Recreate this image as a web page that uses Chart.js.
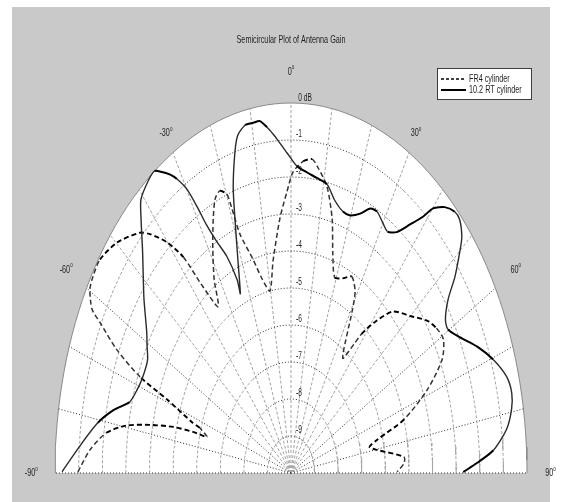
<!DOCTYPE html>
<html>
<head>
<meta charset="utf-8">
<title>Semicircular Plot of Antenna Gain</title>
<script src="https://cdn.jsdelivr.net/npm/chart.js@4.4.0/dist/chart.umd.min.js"></script>
<style>
  html, body { margin: 0; padding: 0; background: #fff; }
  canvas { display: block; }
</style>
</head>
<body>
<canvas id="gainChart" width="562" height="502"></canvas>
<script>
// Angles in degrees (0 = broadside), gain in dB
var fr4Angle = [-89.8, -85.8, -82.1, -79.6, -77.7, -76.0, -75.0, -74.7, -72.5, -71.9, -69.3, -67.9, -65.7, -63.3, -62.3, -59.8, -57.7, -54.5, -49.8, -44.6, -42.8, -40.1, -38.0, -36.8, -34.5, -31.9, -28.7, -25.7, -23.5, -21.6, -19.8, -19.3, -18.5, -15.6, -13.2, -10.3, -7.5, -3.9, -1.3, 0.6, 3.5, 6.0, 7.6, 11.1, 14.2, 16.6, 19.3, 22.6, 25.9, 29.0, 30.6, 35.2, 37.5, 38.5, 41.0, 44.7, 50.0, 54.6, 57.6, 60.8, 64.4, 68.7, 73.2, 76.2, 78.1, 80.3, 84.8, 86.8, 89.6];
var fr4Gain = [-0.97, -1.46, -2.1, -2.9, -3.9, -4.85, -5.7, -6.3, -5.95, -5.6, -4.4, -3.1, -1.9, -0.94, -0.48, -0.14, -0.07, -0.06, -0.35, -0.88, -1.2, -1.85, -2.6, -3.57, -4.55, -3.84, -3.1, -2.4, -1.93, -1.8, -2.0, -2.45, -3.2, -4.0, -4.6, -5.0, -4.2, -3.1, -2.4, -1.87, -1.56, -1.47, -1.63, -2.1, -2.9, -3.8, -4.4, -4.3, -4.1, -4.4, -4.9, -6.2, -5.6, -5.2, -4.6, -3.86, -3.4, -2.9, -2.7, -2.6, -2.9, -3.8, -5.0, -6.25, -6.6, -6.3, -5.2, -5.2, -5.5];

var rtAngle = [-89.8, -85.5, -80.6, -77.2, -74.3, -71.0, -67.8, -63.4, -60.6, -58.1, -53.0, -48.3, -46.3, -42.8, -40.7, -37.4, -35.3, -33.9, -32.4, -31.3, -29.9, -28.9, -28.1, -26.7, -24.9, -23.6, -23.9, -21.3, -19.1, -17.6, -15.3, -13.9, -11.7, -9.6, -7.9, -6.2, -4.8, -3.8, -1.1, 1.7, 4.8, 7.8, 11.1, 14.1, 17.3, 19.8, 22.7, 25.2, 27.3, 29.9, 32.1, 34.5, 36.9, 38.9, 40.1, 42.2, 44.5, 46.2, 48.6, 49.9, 52.6, 54.8, 57.6, 59.7, 62.9, 66.6, 70.3, 74.1, 77.0, 79.6, 82.7, 85.9, 88.0, 89.8];
var rtGain = [-0.3, -1.0, -1.7, -2.3, -2.9, -3.1, -3.2, -3.2, -3.0, -2.8, -2.2, -1.6, -1.3, -0.65, -0.25, -0.05, 0.0, -0.2, -0.45, -0.7, -1.15, -1.8, -2.4, -3.0, -3.55, -4.3, -4.7, -3.8, -2.75, -1.9, -1.0, -0.6, -0.4, -0.4, -0.4, -0.6, -0.8, -0.95, -1.35, -1.7, -1.85, -1.95, -2.05, -2.4, -2.6, -2.6, -2.4, -2.1, -2.05, -2.2, -2.3, -2.1, -1.6, -1.1, -0.65, -0.3, -0.1, -0.1, -0.35, -0.63, -1.25, -1.85, -2.25, -2.3, -1.95, -1.4, -0.9, -0.5, -0.4, -0.5, -0.8, -1.4, -2.1, -2.7];

var ringLevels = [-1, -2, -3, -4, -5, -6, -7, -8, -9];
var spokeAngles = [-90, -80, -70, -60, -50, -40, -30, -20, -10, 0, 10, 20, 30, 40, 50, 60, 70, 80, 90];
var angleTicks = [-90, -60, -30, 0, 30, 60, 90];
var minDb = -10;

function toXY(deg, db) {
  var r = (db - minDb) / -minDb;
  var a = deg * Math.PI / 180;
  return { x: r * Math.sin(a), y: r * Math.cos(a) };
}

function arc(level) {
  var pts = [];
  for (var d = -90; d <= 90; d += 2) pts.push(toXY(d, level));
  return pts;
}

// lines that run mostly across the page look black dotted, steep ones grey dashed
function flat(c) {
  return Math.abs(c.p1.x - c.p0.x) >= Math.abs(c.p1.y - c.p0.y);
}

var gridSegment = {
  borderColor: function (c) { return flat(c) ? '#2e2e2e' : '#a3a3a3'; },
  borderDash: function (c) { return flat(c) ? [1, 2] : [3, 2]; }
};

var datasets = [];

datasets.push({
  label: 'frame',
  data: arc(0),
  borderColor: '#8a8a8a',
  borderWidth: 1,
  backgroundColor: '#ffffff',
  fill: 'origin',
  order: 10
});

ringLevels.forEach(function (lv) {
  datasets.push({ label: 'ring', data: arc(lv), borderWidth: 1, segment: gridSegment, order: 8 });
});

spokeAngles.forEach(function (a) {
  datasets.push({ label: 'spoke', data: [toXY(0, minDb), toXY(a, 0)], borderWidth: 1, segment: gridSegment, order: 8 });
});

datasets.push({
  label: 'FR4 cylinder',
  data: fr4Angle.map(function (a, i) { return toXY(a, fr4Gain[i]); }),
  borderColor: '#000',
  borderWidth: 1.8,
  borderDash: [5, 3],
  tension: 0.25,
  segment: {
    borderColor: function (c) { return flat(c) ? '#000' : '#333'; },
    borderWidth: function (c) { return flat(c) ? 1.9 : 1.5; }
  },
  order: 2
});

datasets.push({
  label: '10.2 RT cylinder',
  data: rtAngle.map(function (a, i) { return toXY(a, rtGain[i]); }),
  borderColor: '#000',
  borderWidth: 1.9,
  tension: 0.25,
  segment: {
    borderColor: function (c) { return flat(c) ? '#000' : '#2a2a2a'; },
    borderWidth: function (c) { return flat(c) ? 2 : 1.4; }
  },
  order: 1
});

function squeezed(ctx, text, x, y, size, align) {
  ctx.save();
  ctx.translate(x, y);
  ctx.scale(0.66, 1);
  ctx.font = size + 'px "Liberation Sans", Arial, sans-serif';
  ctx.textAlign = align || 'center';
  ctx.textBaseline = 'middle';
  ctx.fillText(text, 0, 0);
  ctx.restore();
}

function degLabel(ctx, val, cx, cy) {
  ctx.save();
  ctx.font = '11px "Liberation Sans", Arial, sans-serif';
  var w1 = ctx.measureText(String(val)).width * 0.66;
  ctx.font = '7px "Liberation Sans", Arial, sans-serif';
  var w2 = ctx.measureText('o').width * 0.66;
  ctx.restore();
  var x0 = cx - (w1 + w2) / 2;
  squeezed(ctx, String(val), x0, cy, 11, 'left');
  squeezed(ctx, 'o', x0 + w1, cy - 4, 7, 'left');
}

var backdrop = {
  id: 'backdrop',
  beforeDraw: function (chart) {
    var ctx = chart.ctx;
    ctx.save();
    ctx.fillStyle = '#ffffff';
    ctx.fillRect(0, 0, chart.width, chart.height);
    ctx.fillStyle = '#c9c9c9';
    ctx.fillRect(12, 7, 538, 495);
    ctx.restore();
  }
};

var labels = {
  id: 'labels',
  afterDraw: function (chart) {
    var ctx = chart.ctx, xs = chart.scales.x, ys = chart.scales.y;
    var cx = xs.getPixelForValue(0);
    ctx.save();
    ctx.fillStyle = '#1e1e1e';

    squeezed(ctx, 'Semicircular Plot of Antenna Gain', cx, 40, 11);

    // dB ring labels
    squeezed(ctx, '0 dB', cx + 14, ys.getPixelForValue(1) - 5, 10);
    ringLevels.forEach(function (lv) {
      var p = toXY(0, lv);
      squeezed(ctx, String(lv), cx + 8, ys.getPixelForValue(p.y) - 6, 10);
    });

    // angle labels around the rim
    var rad = { '-90': 1.10, '-60': 1.10, '-30': 1.06, '0': 1.085, '30': 1.06, '60': 1.10, '90': 1.10 };
    angleTicks.forEach(function (a) {
      var r = rad[String(a)];
      var t = a * Math.PI / 180;
      degLabel(ctx, a, xs.getPixelForValue(r * Math.sin(t)), ys.getPixelForValue(r * Math.cos(t)));
    });

    // legend
    ctx.fillStyle = '#ffffff';
    ctx.fillRect(437, 68, 94, 31);
    ctx.strokeStyle = '#3c3c3c';
    ctx.lineWidth = 1;
    ctx.strokeRect(437.5, 68.5, 94, 31);
    ctx.strokeStyle = '#000';
    ctx.lineWidth = 1.6;
    ctx.setLineDash([3, 2]);
    ctx.beginPath(); ctx.moveTo(441, 79); ctx.lineTo(466, 79); ctx.stroke();
    ctx.setLineDash([]);
    ctx.lineWidth = 2;
    ctx.beginPath(); ctx.moveTo(441, 90); ctx.lineTo(466, 90); ctx.stroke();
    ctx.fillStyle = '#1e1e1e';
    squeezed(ctx, 'FR4 cylinder', 469, 79, 11, 'left');
    squeezed(ctx, '10.2 RT cylinder', 469, 90, 11, 'left');
    ctx.restore();
  }
};

var chart = new Chart(document.getElementById('gainChart'), {
  type: 'line',
  data: { datasets: datasets },
  options: {
    responsive: false,
    animation: false,
    events: [],
    layout: { padding: { left: 55, right: 35, top: 103, bottom: 29 } },
    elements: {
      point: { radius: 0 },
      line: { capBezierPoints: false }
    },
    datasets: { line: { clip: false, pointRadius: 0 } },
    scales: {
      x: { type: 'linear', min: -1, max: 1, display: false },
      y: { type: 'linear', min: 0, max: 1, display: false }
    },
    plugins: {
      legend: { display: false },
      title: { display: false },
      tooltip: { enabled: false }
    }
  },
  plugins: [backdrop, labels]
});
</script>
</body>
</html>
